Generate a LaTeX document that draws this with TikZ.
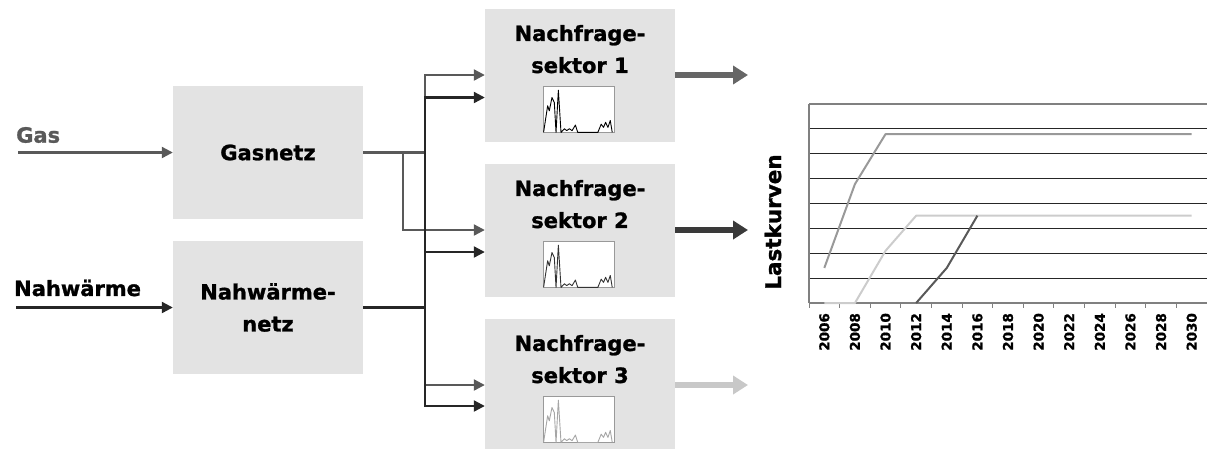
\documentclass[tikz,border=0pt]{standalone}
\usepackage{fontspec}
\setmainfont{DejaVu Sans}[BoldFeatures={FakeBold=1.2}]
\usetikzlibrary{arrows.meta}
\definecolor{boxgrey}{HTML}{E3E3E3}
\definecolor{gasgrey}{HTML}{595959}
\definecolor{heatdark}{HTML}{262626}
\definecolor{outone}{HTML}{666666}
\definecolor{outtwo}{HTML}{3A3A3A}
\definecolor{outthree}{HTML}{C8C8C8}

\tikzset{
lastgang/.pic={
  \draw[line width=0.9pt, line join=round, pic actions]
    (0.014,0.014) -- (0.071,0.59) -- (0.094,0.48) -- (0.132,0.77) -- (0.165,0.66)
    -- (0.189,0.01) -- (0.222,0.93) -- (0.259,0.01) -- (0.307,0.09) -- (0.34,0.05)
    -- (0.377,0.09) -- (0.415,0.05) -- (0.462,0.17) -- (0.495,0.01) -- (0.778,0.01)
    -- (0.825,0.19) -- (0.858,0.12) -- (0.887,0.23) -- (0.92,0.12) -- (0.953,0.27)
    -- (0.981,0.01);
}}

\begin{document}
\begin{tikzpicture}[x=1pt, y=-1pt,
box/.style={fill=boxgrey, minimum width=190pt, minimum height=133pt, inner sep=0pt},
boxtext/.style={font=\bfseries\fontsize{21}{32}\selectfont, align=center, text=black, inner sep=0pt},
chartbox/.style={draw=black!40, line width=0.8pt, fill=white, minimum width=71pt, minimum height=46pt, inner sep=0pt},
gasline/.style={gasgrey, line width=2.2pt},
heatline/.style={heatdark, line width=2.2pt},
tip/.style={-{Triangle[length=11pt,width=11pt]}},
outarrow/.style={line width=6pt, -{Triangle[length=15pt,width=18pt]}},
inlabel/.style={font=\bfseries\fontsize{21}{26}\selectfont, anchor=west, inner sep=0pt},
gridline/.style={black!85, line width=1pt},
axisline/.style={black!50, line width=1.5pt},
curve/.style={line width=2pt, line join=round},
yearlabel/.style={font=\bfseries\fontsize{13.5}{16}\selectfont, rotate=90, anchor=east, inner sep=0pt}
]
\useasboundingbox (0,0) rectangle (1207,448);

\node[box, boxtext] (gasnetz) at (268,152.5) {Gasnetz};
\node[box, boxtext] (nahnetz) at (268,307.5) {Nahwärme-\\netz};

\node[inlabel, text=gasgrey] (gaslabel) at (16,135) {Gas};
\node[inlabel, text=black] (heatlabel) at (14,288) {Nahwärme};
\coordinate (gasin) at (18,152.5);
\coordinate (heatin) at (16,307.5);
\draw[gasline, tip] (gasin) -- (gasnetz.west);
\draw[heatline, tip] (heatin) -- (nahnetz.west);

\foreach \i/\yy/\outcol/\chartcol in {1/75/outone/black, 2/230/outtwo/black!80, 3/385/outthree/black!35} {
  \node[box] (s\i) at (580,\yy) {};
  \node[boxtext, anchor=north, yshift=-16.5pt] (s\i text) at (s\i.north) {Nachfrage-\\sektor \i};
  \node[chartbox] (c\i) at ([xshift=-1.5pt, yshift=-34.5pt]s\i.center) {};
  \pic[draw=\chartcol, x=71pt, y=46pt] at (c\i.south west) {lastgang};
  \coordinate (o\i) at (748,\yy);
  \draw[outarrow, \outcol] (s\i.east) -- (o\i);
}

\coordinate (gj) at (425,152.5);
\coordinate (gk) at (403,152.5);
\coordinate (nj) at (425,307.5);
\draw[gasline, tip] (gasnetz.east) -- (gj) |- (s1.west);
\draw[gasline, tip] (gk) |- (s2.west);
\draw[gasline, tip] (gj) |- (s3.west);
\draw[heatline] (nahnetz.east) -- (nj);
\draw[heatline, tip] (nj) |- ([yshift=-22.5pt]s1.west);
\draw[heatline, tip] (nj) |- ([yshift=-22pt]s2.west);
\draw[heatline, tip] (nj) |- ([yshift=-21pt]s3.west);

\node[font=\bfseries\fontsize{21.5}{26}\selectfont, rotate=90, inner sep=0pt] (lastkurven) at (773,222) {Lastkurven};

\begin{scope}[shift={(809,303)}, x=30.615pt, y=24.875pt]
  \foreach \g in {1,...,7}
    \draw[gridline] (0,\g) -- (13,\g);
  \draw[axisline] (0,8) -- (13,8);
  \draw[axisline] (0,0) -- (0,8);
  \draw[axisline] (0,0) -- (13,0);
  \foreach \k in {0,...,13}
    \draw[axisline, line width=1pt] (\k,0) -- (\k,-0.2);
  \foreach \yr [count=\k from 0] in {2006,2008,...,2030}
    \node[yearlabel] (year\yr) at (\k+0.5,-0.4) {\yr};
  \draw[curve, black!40] (0.5,1.41) -- (1.5,4.78) -- (2.5,6.79) -- (12.5,6.79);
  \draw[curve, black!20] (0.5,0) -- (1.5,0) -- (2.5,2.10) -- (3.5,3.51) -- (12.5,3.51);
  \draw[curve, black!65] (3.5,0) -- (4.5,1.41) -- (5.5,3.51);
\end{scope}
\end{tikzpicture}
\end{document}
